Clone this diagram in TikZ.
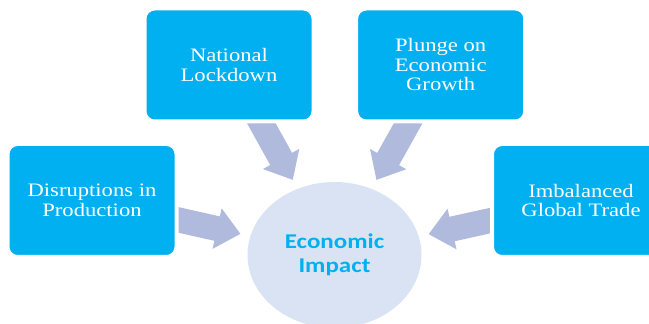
\documentclass[tikz,border=0pt]{standalone}
\usepackage{fontspec}
\setmainfont{Liberation Serif}[FakeStretch=1.19]
\newfontfamily\impactfont{Carlito}[FakeStretch=1.19]
\usetikzlibrary{shapes.geometric,arrows.meta,backgrounds}
\definecolor{boxblue}{RGB}{0,176,240}
\definecolor{arrowgrey}{RGB}{175,186,220}
\definecolor{impactfill}{RGB}{218,227,243}
\tikzset{
    cause/.style={rectangle,rounded corners=10pt,fill=boxblue,draw=white,
        line width=4pt,minimum width=169pt,minimum height=113pt,inner sep=0pt,
        align=center,text=white,font=\fontsize{19}{19.5}\selectfont},
    push/.style={line width=25pt,draw=arrowgrey,
        -{Triangle[length=24pt,width=40pt]},shorten <=-20pt,shorten >=10pt},
}
\begin{document}
\begin{tikzpicture}[x=1pt,y=1pt]
        \useasboundingbox (0,0) rectangle (649,324);
        \clip (0,0) rectangle (649,324);
        %% Centre
        \node[ellipse,fill=impactfill,minimum width=174pt,minimum height=146pt,
            inner sep=0pt,align=center,text=boxblue,
            font=\impactfont\bfseries\fontsize{21}{24}\selectfont]
            (eco) at (334.5,69) {Economic\\Impact};
        %% Causes, top row
        \node[cause] (nat) at (229,259) {National\\Lockdown};
        \node[cause] (plu) at (440.7,259) {Plunge on\\Economic\\Growth};
        %% Causes, side row
        \node[cause] (dis) at (92,123.5) {Disruptions in\\Production};
        \node[cause,minimum width=178pt] (imb) at (581,123.5)
            {Imbalanced\\Global Trade};
        %% Arrows into the centre
        \begin{scope}[on background layer]
            \draw[push] (dis) -- (eco);
            \draw[push] (nat) -- (eco);
            \draw[push] (plu) -- (eco);
            \draw[push] (imb) -- (eco);
        \end{scope}
    \end{tikzpicture}
\end{document}
